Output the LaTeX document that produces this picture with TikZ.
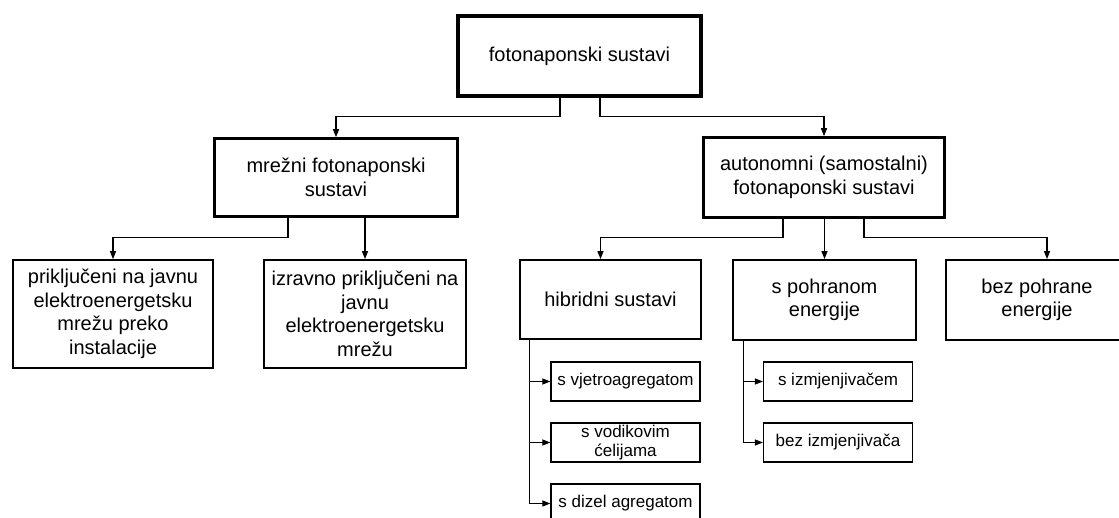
\documentclass[tikz,border=0pt]{standalone}
\usepackage{fontspec}
\setmainfont{Liberation Sans}
\usetikzlibrary{arrows.meta}
\tikzset{
  glavni/.style={draw, line width=3.5pt, minimum width=243pt, minimum height=80pt, inner sep=0pt, align=center, font=\fontsize{20}{23.5}\selectfont},
  srednji/.style={draw, line width=2.6pt, inner sep=0pt, align=center, font=\fontsize{20}{23.5}\selectfont},
  donji/.style={draw, line width=1.8pt, inner sep=0pt, align=center, font=\fontsize{20}{23.5}\selectfont},
  mali/.style={draw, line width=1.3pt, minimum width=149pt, minimum height=39pt, inner sep=0pt, align=center, font=\fontsize{17}{19}\selectfont},
  veza/.style={line width=1.2pt, ->, >={Triangle[length=8pt,width=6pt]}}
}
\begin{document}
\begin{tikzpicture}[x=1pt,y=-1pt]
  \useasboundingbox (0,0) rectangle (1119,518);
  % glavni cvor
  \node[glavni] (sustavi) at (579.5,56) {fotonaponski sustavi};
  % druga razina
  \node[srednji, minimum width=243pt, minimum height=78pt] (mrezni) at (336,177.5) {mrežni fotonaponski\\sustavi};
  \node[srednji, minimum width=241pt, minimum height=80pt] (auto) at (824,177.5) {autonomni (samostalni)\\fotonaponski sustavi};
  % treca razina
  \node[donji, minimum width=200pt, minimum height=108pt] (prik) at (113,314) {priključeni na javnu\\elektroenergetsku\\mrežu preko\\instalacije};
  \node[donji, minimum width=202pt, minimum height=108pt] (izrav) at (365,314) {izravno priključeni na\\javnu\\elektroenergetsku\\mrežu};
  \node[donji, minimum width=181pt, minimum height=79pt] (hib) at (610.5,299.5) {hibridni sustavi};
  \node[donji, minimum width=183pt, minimum height=80pt] (pohr) at (824.5,300) {s pohranom\\energije};
  \node[donji, minimum width=182pt, minimum height=80pt] (bez) at (1037,300) {bez pohrane\\energije};
  % cetvrta razina
  \node[mali] (vjet) at (625.5,381.5) {s vjetroagregatom};
  \node[mali] (vodik) at (625.5,442.5) {s vodikovim\\ćelijama};
  \node[mali] (dizel) at (625.5,503.5) {s dizel agregatom};
  \node[mali] (izmj) at (838,381.5) {s izmjenjivačem};
  \node[mali] (bezizmj) at (838,442.5) {bez izmjenjivača};
  % veze
  \draw[veza] ([xshift=-19.5pt]sustavi.south) -- ++(0,19) -| (mrezni.north);
  \draw[veza] ([xshift=20.5pt]sustavi.south) -- ++(0,19) -| (auto.north);
  \draw[veza] ([xshift=-48pt]mrezni.south) -- ++(0,20) -| (prik.north);
  \draw[veza] (izrav.north |- mrezni.south) -- (izrav.north);
  \draw[veza] ([xshift=-41pt]auto.south) -- ++(0,19) -| ([xshift=-10pt]hib.north);
  \draw[veza] (pohr.north |- auto.south) -- (pohr.north);
  \draw[veza] ([xshift=40pt]auto.south) -- ++(0,19) -| ([xshift=10pt]bez.north);
  \coordinate (hibL) at ([xshift=10pt]hib.south west);
  \coordinate (pohrL) at ([xshift=11pt]pohr.south west);
  \draw[veza] (hibL) |- (dizel.west);
  \draw[veza] (hibL |- vjet.west) -- (vjet.west);
  \draw[veza] (hibL |- vodik.west) -- (vodik.west);
  \draw[veza] (pohrL) |- (bezizmj.west);
  \draw[veza] (pohrL |- izmj.west) -- (izmj.west);
\end{tikzpicture}
\end{document}
